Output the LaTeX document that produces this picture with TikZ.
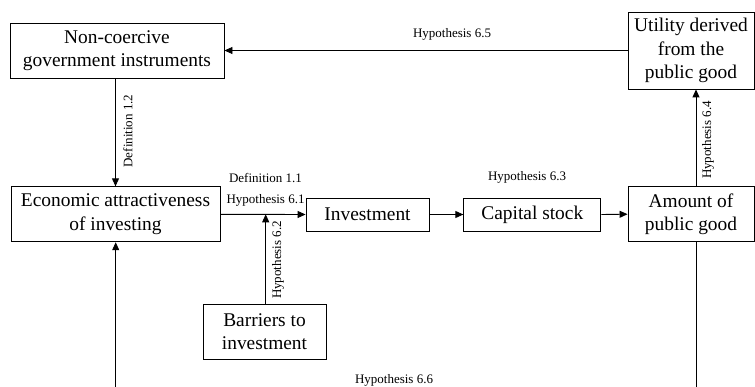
\documentclass[tikz,border=0pt]{standalone}
\usepackage{fontspec}
\setmainfont{Liberation Serif}
\usetikzlibrary{arrows.meta}
\begin{document}
\begin{tikzpicture}[x=1pt,y=-1pt,
  box/.style={draw,line width=0.9pt,inner sep=0pt,align=center,font=\fontsize{19.4}{23.5}\selectfont},
  lbl/.style={font=\fontsize{13}{15}\selectfont,inner sep=0pt},
  arr/.style={line width=0.9pt,-{Triangle[length=8pt,width=7pt]}},
  ln/.style={line width=0.9pt}]
\clip (0,0) rectangle (755,387);
\node[box,minimum width=214,minimum height=55] (nc) at (117,50.5) {Non-coercive\\government instruments};
\node[box,minimum width=126,minimum height=77] (ut) at (691,50.5) {Utility derived\\from the\\public good};
\node[box,minimum width=209,minimum height=55] (ec) at (115.5,214.3) {Economic attractiveness\\of investing};
\node[box,minimum width=123,minimum height=33] (inv) at (367.5,214.5) {Investment};
\node[box,minimum width=137,minimum height=33] (cap) at (532.3,214.5) {Capital stock};
\node[box,minimum width=126,minimum height=55] (am) at (691,214.2) {Amount of\\public good};
\node[box,minimum width=123,minimum height=55] (bar) at (264.5,331.5) {Barriers to\\investment};
\coordinate (j) at (265.7,214.3);
\coordinate (bl) at (115.7,400);
\coordinate (br) at (696,400);
% connectors
\draw[arr] (ut.west) -- (nc.east);
\draw[arr] (nc.south -| ec.north) -- (ec.north);
\draw[arr] (ec.east) -- (inv.west);
\draw[arr] (bar.north -| j) -- (j);
\draw[arr] (inv.east) -- (cap.west);
\draw[arr] (cap.east) -- (am.west);
\draw[arr] (am.north -| br) -- (ut.south -| br);
\draw[ln] (am.south -| br) -- (br);
\draw[arr] (bl) -- (ec.south -| bl);
% labels
\node[lbl] (l65) at (452,34) {Hypothesis 6.5};
\node[lbl,rotate=90] (l12) at (128,131) {Definition 1.2};
\node[lbl] (l11) at (265.5,178) {Definition 1.1};
\node[lbl] (l61) at (265.5,200) {Hypothesis 6.1};
\node[lbl,rotate=90] (l62) at (278,260) {Hypothesis 6.2};
\node[lbl] (l63) at (527,177) {Hypothesis 6.3};
\node[lbl,rotate=90] (l64) at (708,140) {Hypothesis 6.4};
\node[lbl,anchor=south] (l66) at (394,386.5) {Hypothesis 6.6};
\end{tikzpicture}
\end{document}
